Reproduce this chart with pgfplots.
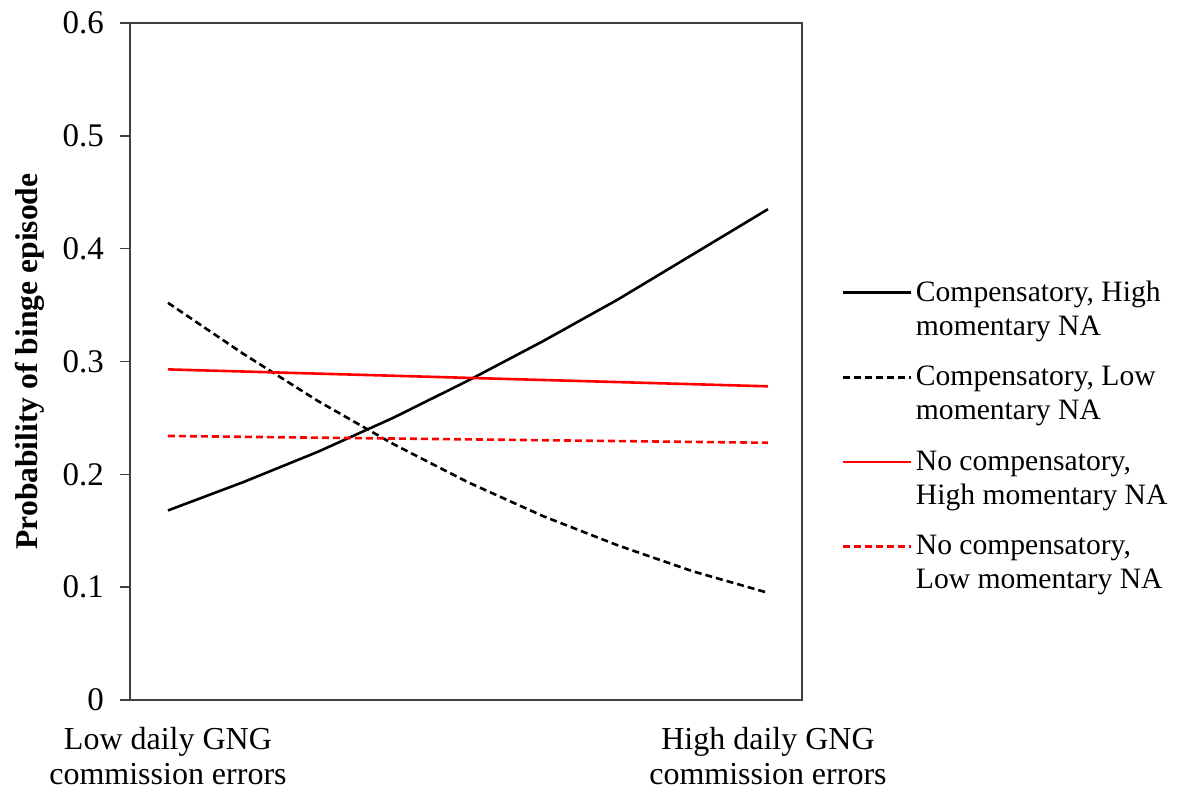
\documentclass[border=0pt]{standalone}
\usepackage{fontspec}
\setmainfont{Liberation Serif}
\usepackage{pgfplots}
\pgfplotsset{compat=1.18}
\begin{document}
\begin{tikzpicture}
\begin{axis}[
  at={(0,0)}, anchor=south west,
  scale only axis,
  width=336pt, height=338.5pt,
  xmin=-0.0633, xmax=1.0567,
  ymin=0, ymax=0.6,
  axis line style={draw=black!75, line width=0.8pt},
  xtick={0,1},
  xticklabels={{Low daily GNG\\commission errors},{High daily GNG\\commission errors}},
  xticklabel style={align=center, font=\fontsize{16}{17.5}\selectfont, yshift=-5pt},
  x tick style={draw=none},
  ytick={0,0.1,0.2,0.3,0.4,0.5,0.6},
  yticklabels={0,0.1,0.2,0.3,0.4,0.5,0.6},
  yticklabel style={font=\fontsize{16.5}{18}\selectfont, xshift=-4.5pt},
  y tick style={black!75, line width=0.8pt},
  ytick pos=left,
  tick align=outside,
  major tick length=5pt,
  ylabel={\textbf{Probability of binge episode}},
  ylabel style={at={(axis description cs:-0.149,0.5)}, anchor=center, font=\fontsize{15.8}{17}\selectfont},
  legend style={draw=none, at={(axis description cs:1.049,0.39)}, anchor=west,
    font=\fontsize{14.8}{17}\selectfont, row sep=10pt,
    cells={align=left}},
  legend cell align=left,
  legend image code/.code={\path[draw=none,fill=none] (0pt,-8.5pt) -- (0pt,8.5pt); \draw[#1] (0pt,8.5pt) -- (34pt,8.5pt);},
]
\addplot[black, line width=1.3pt] coordinates {
 (0,0.168) (0.125,0.193) (0.25,0.220) (0.375,0.250) (0.5,0.283)
 (0.625,0.318) (0.75,0.355) (0.875,0.395) (1,0.435)};
\addlegendentry{Compensatory, High\\momentary NA}
\addplot[black, line width=1.3pt, dash pattern=on 3.5pt off 2pt] coordinates {
 (0,0.352) (0.125,0.307) (0.25,0.265) (0.375,0.227) (0.5,0.193)
 (0.625,0.163) (0.75,0.137) (0.875,0.114) (1,0.095)};
\addlegendentry{Compensatory, Low\\momentary NA}
\addplot[red, line width=1.3pt] coordinates {(0,0.293) (1,0.278)};
\addlegendentry{No compensatory,\\High momentary NA}
\addplot[red, line width=1.3pt, dash pattern=on 3.5pt off 2pt] coordinates {(0,0.234) (1,0.228)};
\addlegendentry{No compensatory,\\Low momentary NA}
\end{axis}
\pgfresetboundingbox
\path[use as bounding box] (-65pt,-46.5pt) rectangle (526.5pt,350pt);
\end{tikzpicture}
\end{document}
